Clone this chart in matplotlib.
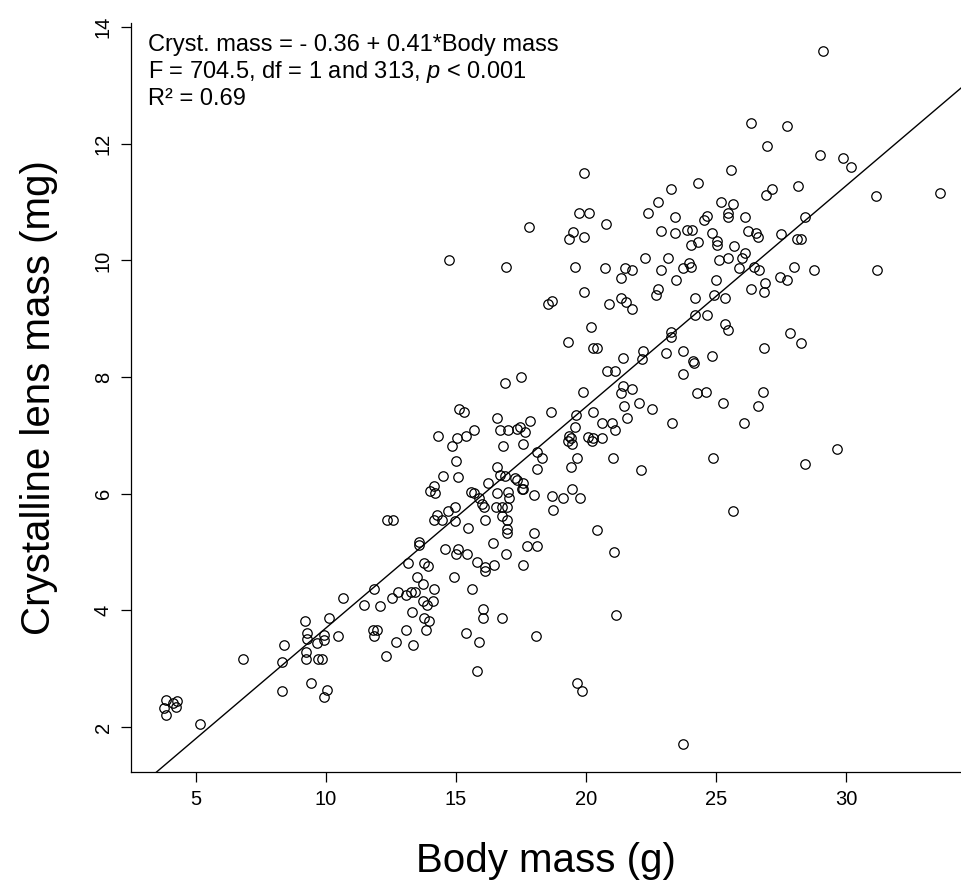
import numpy as np
import matplotlib
matplotlib.use('Agg')
import matplotlib.pyplot as plt

plt.rcParams['font.family'] = ['Liberation Sans', 'DejaVu Sans']
plt.rcParams['mathtext.fontset'] = 'custom'
plt.rcParams['mathtext.rm'] = 'Liberation Sans'
plt.rcParams['mathtext.it'] = 'Liberation Sans:italic'

# body mass (g) and crystalline lens mass (mg)
body_mass = [
    19.92, 19.73, 20.12, 17.80, 19.49, 19.36, 19.93, 14.73, 16.92, 19.58,
    26.33, 26.95, 25.58, 24.30, 23.26, 26.92, 27.14, 22.78, 25.18, 25.64,
    22.38, 20.76, 23.44, 24.64, 24.54, 25.45, 25.45, 26.10, 22.90, 23.44,
    23.90, 24.08, 24.83, 26.22, 26.54, 26.63, 25.05, 25.05, 24.31, 24.03,
    25.70, 22.28, 23.14, 25.12, 25.47, 25.99, 26.12, 20.73, 21.50, 21.78,
    22.90, 23.74, 23.97, 24.03, 25.87, 26.44, 26.67,
    29.13, 27.74, 29.00, 29.87, 30.18, 28.14, 31.15, 33.62, 28.42, 27.50,
    28.10, 28.27, 28.00, 28.78, 31.20,
    27.46, 27.74, 27.85, 28.26, 29.64, 28.42,
    21.33, 23.45, 25.00, 26.88, 26.85, 26.35, 22.78, 22.68, 24.19, 24.93,
    25.36, 21.33, 21.54, 20.88, 21.76, 24.19, 24.64, 25.35, 25.47, 23.26,
    23.26, 26.86, 22.20, 22.14, 23.08, 23.72, 24.10, 24.15, 24.83, 21.43,
    20.80, 21.12, 23.72, 21.41, 21.33, 21.76, 24.26, 24.62, 26.79, 21.46,
    22.04, 22.55, 25.28, 26.63, 21.59, 20.63, 20.99, 21.12, 20.60, 23.32,
    26.09, 21.05, 22.10, 24.90, 25.64,
    19.92, 18.55, 18.69, 20.18, 19.30, 20.28, 20.41, 16.87, 17.50, 19.87,
    15.13, 15.31, 16.56, 18.66, 19.60, 20.28, 17.85, 16.71, 16.98, 17.36,
    17.46, 17.65, 19.58, 14.32, 15.05, 15.37, 15.70, 14.83, 16.79, 17.56,
    19.36, 19.42, 19.32, 19.45, 20.09, 20.28, 20.22, 18.13, 18.32, 19.64,
    15.00, 16.56, 18.13, 19.42, 14.49, 15.06, 16.71, 16.88, 17.27, 17.36,
    17.56, 17.53, 16.24, 14.00, 14.15, 14.20, 15.56, 15.70, 15.90, 16.01,
    16.08, 16.56, 17.01, 17.05, 17.59, 18.01, 18.68, 19.13, 19.47, 19.77,
    16.54, 16.75, 16.97, 18.74, 14.96, 14.70, 14.26, 14.45, 14.15, 14.96,
    16.12, 16.75, 16.95,
    15.47, 16.97, 16.97, 18.01, 20.41, 14.58, 15.07, 15.00, 15.41, 16.43,
    17.72, 18.13, 16.92, 15.82, 16.12, 16.12, 16.46, 17.56, 14.94, 15.63,
    14.15, 14.13, 13.96, 16.05, 16.05, 16.75, 15.40, 15.87, 18.08, 15.82,
    19.64, 19.83,
    13.59, 13.59, 13.14, 13.77, 13.93, 13.48, 13.72, 11.86, 10.64, 12.78,
    12.55, 13.08, 13.27, 13.42, 13.74, 13.87, 11.46, 12.08, 13.32, 13.77,
    10.13, 9.19, 9.26, 9.26, 9.92, 9.92, 9.67, 10.45, 11.82, 11.97,
    11.86, 13.08, 13.83, 12.68, 13.36, 12.31, 8.38, 8.30, 9.23, 9.23,
    9.70, 9.83, 9.41, 10.02, 9.93, 8.30, 12.36, 12.59,
    3.85, 4.13, 4.28, 4.23, 3.77, 3.83, 5.15, 6.80,
    21.09, 21.15, 23.72,
]
lens_mass = [
    11.50, 10.81, 10.81, 10.57, 10.48, 10.37, 10.41, 10.00, 9.89, 9.89,
    12.36, 11.97, 11.55, 11.32, 11.22, 11.12, 11.22, 11.00, 11.00, 10.96,
    10.81, 10.62, 10.75, 10.76, 10.69, 10.82, 10.75, 10.75, 10.51, 10.47,
    10.52, 10.52, 10.47, 10.51, 10.47, 10.41, 10.34, 10.26, 10.32, 10.26,
    10.25, 10.04, 10.04, 10.00, 10.04, 10.04, 10.12, 9.87, 9.87, 9.83,
    9.83, 9.87, 9.95, 9.88, 9.87, 9.89, 9.83,
    13.59, 12.30, 11.81, 11.76, 11.61, 11.27, 11.11, 11.16, 10.75, 10.46,
    10.36, 10.36, 9.89, 9.83, 9.83,
    9.72, 9.66, 8.75, 8.59, 6.77, 6.51,
    9.70, 9.66, 9.66, 9.62, 9.46, 9.51, 9.51, 9.41, 9.35, 9.41,
    9.35, 9.35, 9.29, 9.25, 9.17, 9.06, 9.06, 8.91, 8.81, 8.78,
    8.69, 8.50, 8.45, 8.31, 8.42, 8.45, 8.27, 8.25, 8.37, 8.32,
    8.10, 8.10, 8.05, 7.85, 7.72, 7.79, 7.72, 7.74, 7.74, 7.51,
    7.56, 7.45, 7.56, 7.51, 7.30, 7.21, 7.21, 7.09, 6.96, 7.21,
    7.21, 6.62, 6.41, 6.62, 5.71,
    9.46, 9.25, 9.30, 8.86, 8.61, 8.50, 8.50, 7.90, 8.00, 7.75,
    7.46, 7.41, 7.30, 7.41, 7.35, 7.41, 7.25, 7.09, 7.09, 7.11,
    7.15, 7.06, 7.15, 6.99, 6.96, 6.99, 7.09, 6.82, 6.82, 6.86,
    6.99, 6.95, 6.91, 6.86, 6.97, 6.95, 6.90, 6.72, 6.62, 6.62,
    6.57, 6.46, 6.42, 6.46, 6.30, 6.28, 6.32, 6.30, 6.27, 6.23,
    6.18, 6.09, 6.18, 6.05, 6.14, 6.02, 6.03, 6.02, 5.93, 5.83,
    5.77, 6.02, 6.03, 5.93, 6.08, 5.98, 5.97, 5.92, 6.08, 5.93,
    5.77, 5.77, 5.77, 5.72, 5.78, 5.70, 5.63, 5.55, 5.55, 5.54,
    5.55, 5.62, 5.55,
    5.42, 5.39, 5.32, 5.32, 5.38, 5.06, 5.06, 4.96, 4.96, 5.16,
    5.11, 5.11, 4.96, 4.83, 4.75, 4.68, 4.78, 4.78, 4.58, 4.37,
    4.37, 4.16, 3.82, 4.03, 3.87, 3.87, 3.62, 3.46, 3.56, 2.97,
    2.76, 2.62,
    5.18, 5.12, 4.82, 4.82, 4.76, 4.58, 4.46, 4.37, 4.22, 4.32,
    4.22, 4.26, 4.32, 4.32, 4.16, 4.10, 4.10, 4.08, 3.98, 3.87,
    3.87, 3.82, 3.62, 3.51, 3.58, 3.49, 3.45, 3.57, 3.66, 3.66,
    3.56, 3.66, 3.66, 3.46, 3.41, 3.22, 3.41, 3.12, 3.28, 3.16,
    3.17, 3.17, 2.76, 2.63, 2.52, 2.62, 5.55, 5.55,
    2.47, 2.42, 2.44, 2.35, 2.33, 2.20, 2.05, 3.17,
    5.00, 3.92, 1.71,
]

# fitted line as drawn in the picture
intercept = -0.09
slope = 0.379

x_ticks = [5, 10, 15, 20, 25, 30]
y_ticks = [2, 4, 6, 8, 10, 12, 14]

fig = plt.figure(figsize=(9.61, 8.93), dpi=100)
ax = fig.add_axes([131 / 961, 121 / 893, 830 / 961, 749 / 893])

ax.plot(body_mass, lens_mass, 'o', mfc='none', mec='black', ms=6.8, mew=0.9)
ax.axline((0, intercept), slope=slope, color='black', lw=1.0)

ax.set_xlim(2.5, 34.42)
ax.set_ylim(1.23, 14.07)
ax.set_xticks(x_ticks)
ax.set_yticks(y_ticks)
ax.tick_params(direction='out', length=7, width=0.9, labelsize=14.5, pad=6)
for lab in ax.get_yticklabels():
    lab.set_rotation(90)
    lab.set_va('center')
ax.spines['top'].set_visible(False)
ax.spines['right'].set_visible(False)
ax.spines['left'].set_linewidth(0.9)
ax.spines['bottom'].set_linewidth(0.9)

ax.set_xlabel('Body mass (g)', fontsize=29, labelpad=24)
ax.set_ylabel('Crystalline lens mass (mg)', fontsize=29, labelpad=26)

txt = ('Cryst. mass = - 0.36 + 0.41*Body mass\n'
       'F = 704.5, df = 1 and 313, $p$ < 0.001\n'
       'R\u00b2 = 0.69')
ax.text(0.021, 0.985, txt, transform=ax.transAxes, fontsize=17,
        va='top', ha='left', linespacing=1.15)

fig.savefig('out.png', dpi=100)
